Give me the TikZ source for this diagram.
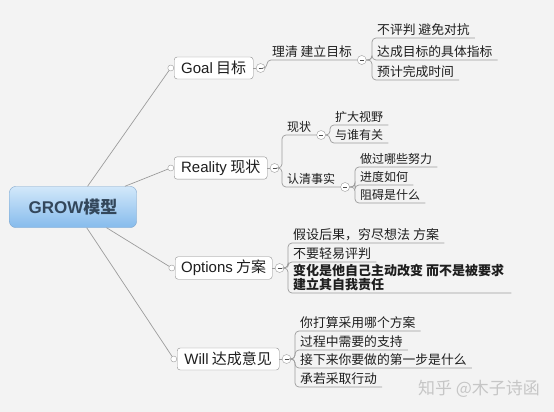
\documentclass[tikz,border=0pt]{standalone}
\usepackage{fontspec}
\setmainfont{Noto Sans CJK SC}
\newfontfamily\latinfont{Liberation Sans}
\usetikzlibrary{positioning}

\definecolor{bgcol}{HTML}{F3F3F3}
\definecolor{linecol}{HTML}{9C9C9C}
\definecolor{boxborder}{HTML}{8E8E8E}
\definecolor{roottop}{HTML}{D2E8FA}
\definecolor{rootbottom}{HTML}{86BBEC}
\definecolor{rootborder}{HTML}{7BA4CC}
\definecolor{roottext}{HTML}{33475B}
\definecolor{itemtext}{HTML}{1E1E1E}

\begin{document}
\begin{tikzpicture}[
    x=1pt, y=-1pt,
    root/.style={rectangle, draw=rootborder, top color=roottop, bottom color=rootbottom, rounded corners=6pt, minimum width=127pt, minimum height=41pt, font=\fontsize{17}{19}\selectfont\bfseries, text=roottext},
    topic/.style={rectangle, draw=boxborder, fill=white, rounded corners=3pt, minimum height=22pt, inner xsep=5pt, anchor=west, font=\fontsize{15}{17}\selectfont, text=itemtext},
    dot/.style={circle, draw=linecol, fill=white, inner sep=0pt, minimum size=6pt},
    fold/.style={circle, draw=linecol, fill=white, inner sep=0pt, minimum size=9pt, path picture={\draw[black!70, line width=0.8pt] ([xshift=-2pt]path picture bounding box.center) -- ([xshift=2pt]path picture bounding box.center);}},
    item/.style={anchor=south west, inner xsep=5pt, inner ysep=2pt, font=\fontsize{12.8}{14}\selectfont, text=itemtext},
    conn/.style={draw=linecol, line width=0.7pt},
    branch/.style={conn, rounded corners=4pt},
    watermark/.style={font=\fontsize{17}{19}\selectfont, text=gray!45}
]
    \useasboundingbox[fill=bgcol] (0,0) rectangle (554,412);

    % Central topic
    \node[root] (grow) at (73,207) {{\latinfont GROW}模型};

    % Main topics
    \node[topic, minimum width=79pt] (goal) at (174,68) {{\latinfont Goal} 目标};
    \node[topic, minimum width=93pt] (reality) at (174,168) {{\latinfont Reality} 现状};
    \node[topic, minimum width=97pt] (options) at (175,268) {{\latinfont Options} 方案};
    \node[topic, minimum width=102pt] (will) at (177,359) {{\latinfont Will} 达成意见};

    \foreach \t in {goal, reality, options, will} {
        \node[dot, left=0pt of \t] (\t dot) {};
        \node[fold, right=2.5pt of \t] (\t fold) {};
        \draw[conn] (grow) -- (\t dot);
        \draw[conn] (\t) -- (\t fold);
    }

    % Goal branch
    \node[item] (clarify) at (267,60) {理清 建立目标};
    \node[fold, right=0pt of clarify.south east] (clarifyfold) {};
    \node[item] (g1) at (372,38) {不评判 避免对抗};
    \node[item] (g2) at (372,60) {达成目标的具体指标};
    \node[item] (g3) at (372,80) {预计完成时间};
    \draw[branch] (goalfold.east) -- (goalfold.east -| clarify.south west) |- (clarify.south east);
    \foreach \i in {g1, g2, g3}
        \draw[branch] (clarifyfold.east) -- (clarifyfold.east -| \i.south west) |- (\i.south east);

    % Reality branch
    \node[item, font=\fontsize{12}{14}\selectfont] (status) at (282,135) {现状};
    \node[fold, right=0pt of status.south east] (statusfold) {};
    \node[item, font=\fontsize{12}{14}\selectfont] (facts) at (282,187) {认清事实};
    \node[fold, right=0pt of facts.south east] (factsfold) {};
    \node[item, font=\fontsize{12}{14}\selectfont] (r1) at (330,125) {扩大视野};
    \node[item, font=\fontsize{12}{14}\selectfont] (r2) at (330,143) {与谁有关};
    \node[item, font=\fontsize{12}{14}\selectfont] (r3) at (355,167) {做过哪些努力};
    \node[item, font=\fontsize{12}{14}\selectfont] (r4) at (355,185) {进度如何};
    \node[item, font=\fontsize{12}{14}\selectfont] (r5) at (355,203) {阻碍是什么};
    \foreach \i in {status, facts}
        \draw[branch] (realityfold.east) -- (realityfold.east -| \i.south west) |- (\i.south east);
    \foreach \i in {r1, r2}
        \draw[branch] (statusfold.east) -- (statusfold.east -| \i.south west) |- (\i.south east);
    \foreach \i in {r3, r4, r5}
        \draw[branch] (factsfold.east) -- (factsfold.east -| \i.south west) |- (\i.south east);

    % Options branch
    \node[item, font=\fontsize{13}{14}\selectfont] (o1) at (288,243) {假设后果，穷尽想法 方案};
    \node[item, font=\fontsize{13}{14}\selectfont] (o2) at (288,262) {不要轻易评判};
    \node[item, font=\fontsize{13}{13.5}\selectfont\bfseries, align=left, inner xsep=7pt] (o3) at (286,293) {变化是他自己主动改变 而不是被要求\\建立其自我责任};
    \foreach \i in {o1, o2, o3}
        \draw[branch] (optionsfold.east) -- (optionsfold.east -| o1.south west) |- (\i.south east);

    % Will branch
    \node[item] (w1) at (295,331) {你打算采用哪个方案};
    \node[item] (w2) at (295,350) {过程中需要的支持};
    \node[item] (w3) at (295,368) {接下来你要做的第一步是什么};
    \node[item] (w4) at (295,387) {承若采取行动};
    \foreach \i in {w1, w2, w3, w4}
        \draw[branch] (willfold.east) -- (willfold.east -| \i.south west) |- (\i.south east);

    % Watermark
    \node[watermark] (credit) at (479,389) {知乎 @木子诗函};

\end{tikzpicture}
\end{document}
